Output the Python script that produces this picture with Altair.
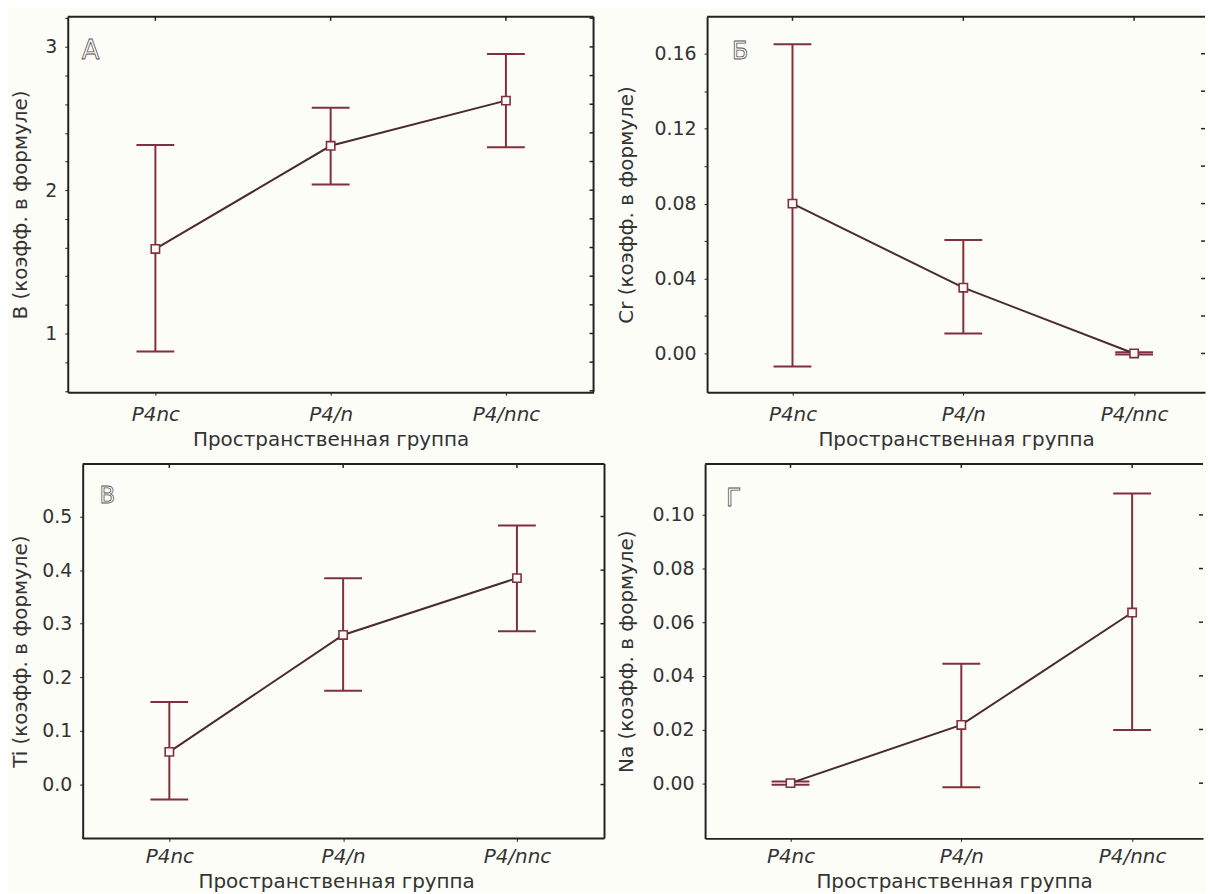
import json
import altair as alt
import pandas as pd

# ---------------- data ----------------
categories = ["P4nc", "P4/n", "P4/nnc"]
x_title = "Пространственная группа"
y_titles = ["B (коэфф. в формуле)", "Cr (коэфф. в формуле)",
            "Ti (коэфф. в формуле)", "Na (коэфф. в формуле)"]
panel_letters = ["А", "Б", "В", "Г"]

# Panel А: B
b_mean = [1.59, 2.31, 2.625]
b_low = [0.875, 2.04, 2.30]
b_high = [2.315, 2.576, 2.95]
# Panel Б: Cr
cr_mean = [0.080, 0.0351, 0.0]
cr_low = [-0.0069, 0.0107, -0.0006]
cr_high = [0.165, 0.0606, 0.0006]
# Panel В: Ti
ti_mean = [0.061, 0.279, 0.385]
ti_low = [-0.028, 0.175, 0.286]
ti_high = [0.154, 0.385, 0.483]
# Panel Г: Na
na_mean = [0.0, 0.0217, 0.0636]
na_low = [-0.0006, -0.0015, 0.0198]
na_high = [0.0006, 0.0445, 0.108]

# y tick marks and labelled ticks
b_ticks = [0.6, 0.8, 1.0, 1.2, 1.4, 1.6, 1.8, 2.0, 2.2, 2.4, 2.6, 2.8, 3.0, 3.2]
b_labels = [1.0, 2.0, 3.0]
cr_ticks = [0.0, 0.02, 0.04, 0.06, 0.08, 0.1, 0.12, 0.14, 0.16]
cr_labels = [0.0, 0.04, 0.08, 0.12, 0.16]
ti_ticks = [0.0, 0.1, 0.2, 0.3, 0.4, 0.5]
ti_labels = [0.0, 0.1, 0.2, 0.3, 0.4, 0.5]
na_ticks = [0.0, 0.02, 0.04, 0.06, 0.08, 0.1]
na_labels = [0.0, 0.02, 0.04, 0.06, 0.08, 0.1]

# ---------------- style ----------------
ERR = "#80303c"
LINE = "#4a2a2e"
BG = "#fdfdf8"
FRAME = "#222222"
TXT = "#333333"
FONT = "DejaVu Sans"


def panel(mean, low, high, ytitle, letter, ydomain, ticks, label_ticks, fmt,
          W, H, xdomain, y_ext, x_ext, x_label_pad, letter_xy, letter_size,
          right_frame, inset=0):
    df = pd.DataFrame({"idx": [0, 1, 2], "cat": categories,
                       "mean": mean, "low": low, "high": high})
    xscale = alt.Scale(domain=xdomain, nice=False, zero=False)
    yscale = alt.Scale(domain=ydomain, nice=False, zero=False)
    xaxis = alt.Axis(
        title=x_title, values=[0, 1, 2],
        labelExpr=json.dumps(categories) + "[datum.value]",
        labelFontStyle="italic", labelFontSize=20, labelPadding=x_label_pad,
        tickSize=3, minExtent=x_ext, maxExtent=x_ext, titlePadding=3,
        labelAngle=0, domain=(inset == 0),
    )
    label_expr = (f"indexof({json.dumps(label_ticks)}, datum.value) >= 0 ? "
                  f"format(datum.value, '{fmt}') : ''")
    yaxis = alt.Axis(
        title=ytitle, values=ticks, labelExpr=label_expr,
        labelFontSize=19, labelPadding=8, tickSize=3,
        minExtent=y_ext, maxExtent=y_ext, titlePadding=4, offset=-inset,
    )

    def X(field):
        return alt.X(field, type="quantitative", scale=xscale, axis=xaxis)

    def Y(field):
        return alt.Y(field, type="quantitative", scale=yscale, axis=yaxis)

    base = alt.Chart(df)
    bars = base.mark_rule(color=ERR, strokeWidth=2).encode(
        x=X("idx"), y=Y("low"), y2="high")
    cap_lo = base.mark_rule(color=ERR, strokeWidth=2, xOffset=-19, x2Offset=19).encode(
        x=X("idx"), x2="idx", y=Y("low"))
    cap_hi = base.mark_rule(color=ERR, strokeWidth=2, xOffset=-19, x2Offset=19).encode(
        x=X("idx"), x2="idx", y=Y("high"))
    line = base.mark_line(color=LINE, strokeWidth=2).encode(x=X("idx"), y=Y("mean"))
    pts = base.mark_square(size=70, fill=BG, fillOpacity=1, stroke=ERR,
                           strokeWidth=1.6).encode(x=X("idx"), y=Y("mean"))

    one = alt.Chart(pd.DataFrame({"a": [0]}))
    top = one.mark_rule(color=FRAME, strokeWidth=2).encode(
        x=alt.value(inset), x2=alt.value(W), y=alt.value(0))
    top_ticks = base.mark_rule(color=FRAME, strokeWidth=1.5).encode(
        x=X("idx"), y=alt.value(0), y2=alt.value(4))
    rt = alt.Chart(pd.DataFrame({"t": ticks})).mark_rule(
        color=FRAME, strokeWidth=1.5).encode(
        y=Y("t"), x=alt.value(W - 4), x2=alt.value(W))
    txt = alt.Chart(pd.DataFrame({"letter": [letter]})).mark_text(
        align="left", baseline="alphabetic", font=FONT, fontSize=letter_size,
        fill=BG, stroke="#555555", strokeWidth=0.8).encode(
        text="letter:N", x=alt.value(letter_xy[0]), y=alt.value(letter_xy[1]))

    layers = [bars, cap_lo, cap_hi, line, pts, top, top_ticks, rt, txt]
    if right_frame:
        right = one.mark_rule(color=FRAME, strokeWidth=2).encode(
            x=alt.value(W), y=alt.value(0), y2=alt.value(H))
        layers.append(right)
    if inset:
        bottom = one.mark_rule(color=FRAME, strokeWidth=2).encode(
            x=alt.value(inset), x2=alt.value(W), y=alt.value(H))
        layers.append(bottom)
    return alt.layer(*layers).properties(width=W, height=H)


pA = panel(b_mean, b_low, b_high, y_titles[0], panel_letters[0],
           [0.59, 3.21], b_ticks, b_labels, "d",
           528, 377, [-0.5, 2.5], 33, 34, 9, (14, 42), 26, True)
pB = panel(cr_mean, cr_low, cr_high, y_titles[1], panel_letters[1],
           [-0.0207, 0.1797], cr_ticks, cr_labels, ".2f",
           500, 377, [-0.5, 2.415], 67, 34, 9, (25, 42), 24, False)
pC = panel(ti_mean, ti_low, ti_high, y_titles[2], panel_letters[2],
           [-0.1004, 0.598], ti_ticks, ti_labels, ".1f",
           539, 376, [-0.5845, 2.504], 48, 30, 5, (32, 39), 23, True, inset=15)
pD = panel(na_mean, na_low, na_high, y_titles[3], panel_letters[3],
           [-0.0206, 0.119], na_ticks, na_labels, ".2f",
           500, 376, [-0.5, 2.415], 65, 30, 5, (21, 42), 25, False)

row1 = alt.hconcat(pA, pB, spacing=22)
row2 = alt.hconcat(pC, pD, spacing=11)

chart = alt.vconcat(row1, row2, spacing=14).properties(
    padding={"left": 3, "top": 6, "right": 0, "bottom": 0},
    background=BG,
).configure_view(
    stroke=None, fill=BG
).configure_axis(
    grid=False, domainColor=FRAME, domainWidth=2, tickColor=FRAME,
    labelFont=FONT, titleFont=FONT, labelColor=TXT, titleColor=TXT,
    titleFontSize=20, titleFontWeight="normal",
)

chart.save("out.html", embed_options={"renderer": "svg", "actions": False})
